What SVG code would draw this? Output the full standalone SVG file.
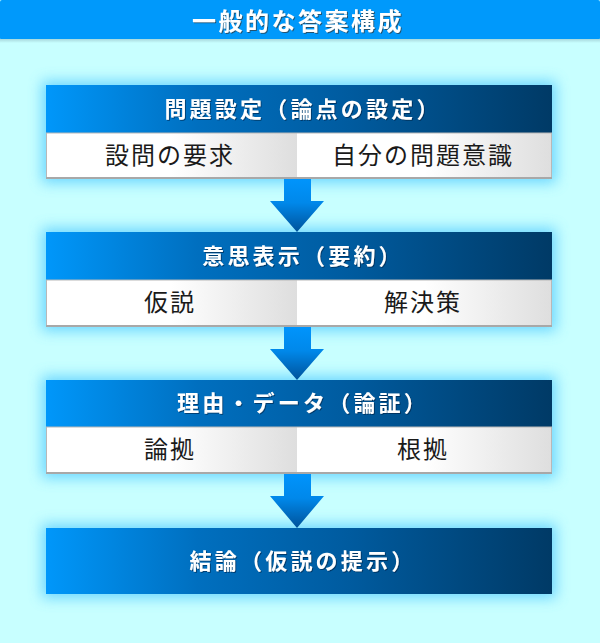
<svg xmlns="http://www.w3.org/2000/svg" width="600" height="643" viewBox="0 0 600 643">
<defs>
<linearGradient id="hdr" x1="0" y1="0" x2="1" y2="0">
<stop offset="0" stop-color="#0097fa"/>
<stop offset="0.3" stop-color="#006fbf"/>
<stop offset="0.6" stop-color="#005b9f"/>
<stop offset="1" stop-color="#003a66"/>
</linearGradient>
<linearGradient id="sub" x1="0" y1="0" x2="1" y2="0">
<stop offset="0" stop-color="#ffffff"/>
<stop offset="0.5" stop-color="#ffffff"/>
<stop offset="1" stop-color="#dedede"/>
</linearGradient>
<linearGradient id="arr" x1="0" y1="0" x2="0" y2="1">
<stop offset="0" stop-color="#0094fc"/>
<stop offset="0.45" stop-color="#0088ea"/>
<stop offset="1" stop-color="#00529a"/>
</linearGradient>
<linearGradient id="strip" x1="0" y1="0" x2="0" y2="1">
<stop offset="0" stop-color="#a8d8dc"/>
<stop offset="1" stop-color="#c8ffff"/>
</linearGradient>
<filter id="glow" x="-20%" y="-50%" width="140%" height="200%">
<feGaussianBlur stdDeviation="7"/>
</filter>
<filter id="tshadow" x="-10%" y="-30%" width="120%" height="160%">
<feDropShadow dx="1" dy="1" stdDeviation="0.6" flood-color="#303030" flood-opacity="0.7"/>
</filter>
<filter id="hshadow" x="-10%" y="-30%" width="120%" height="160%">
<feDropShadow dx="1" dy="1" stdDeviation="0.5" flood-color="#002040" flood-opacity="0.6"/>
</filter>
</defs>
<style>
.bg{fill:#c8ffff}
.glow{fill:#5ccfff;opacity:0.85;filter:url(#glow)}
.hdr{fill:url(#hdr)}
.sub{fill:url(#sub)}
.frame{fill:none;stroke:#b8b8b8;stroke-width:1}
.base{stroke:#a8a8a8;stroke-width:2}
.title{font-family:"Noto Sans CJK JP","Noto Sans CJK SC",sans-serif;font-weight:bold;font-size:24px;fill:#ffffff;letter-spacing:2.5px;text-anchor:middle;filter:url(#tshadow)}
.htext{font-family:"Noto Sans CJK JP","Noto Sans CJK SC",sans-serif;font-weight:bold;font-size:22px;fill:#ffffff;letter-spacing:3.2px;text-anchor:middle;filter:url(#hshadow)}
.stext{font-family:"Noto Sans CJK JP","Noto Sans CJK SC",sans-serif;font-weight:normal;font-size:24px;fill:#1a1a1a;letter-spacing:2px;text-anchor:middle}
.arrow{fill:url(#arr)}
</style>
<rect class="bg" x="0" y="0" width="600" height="643"/>
<g id="title-bar">
<rect x="0" y="0" width="600" height="40" rx="2" fill="#0099fb"/>
<rect x="0" y="39" width="600" height="4" fill="url(#strip)"/>
<text class="title" x="298" y="30">一般的な答案構成</text>
</g>
<g id="glows">
<rect class="glow" x="42" y="81" width="514" height="102"/>
<rect class="glow" x="42" y="228" width="514" height="103"/>
<rect class="glow" x="42" y="376" width="514" height="102"/>
<rect class="glow" x="42" y="524" width="514" height="74"/>
</g>
<g id="connectors">
<path class="arrow" d="M284 179 H311 V201 H324 L297 232 L270 201 H284 Z"/>
<path class="arrow" d="M284 327 H311 V349 H324 L297 380 L270 349 H284 Z"/>
<path class="arrow" d="M284 474 H311 V496 H324 L297 528 L270 496 H284 Z"/>
</g>
<g id="node-mondai">
<rect class="hdr" x="46" y="85" width="506" height="48"/>
<text class="htext" x="303" y="117">問題設定（論点の設定）</text>
<rect class="sub" x="46" y="133" width="251" height="46"/>
<rect class="sub" x="297" y="133" width="255" height="46"/>
<rect class="frame" x="46.5" y="133" width="505" height="45.5"/>
<line class="base" x1="46" y1="178" x2="552" y2="178"/>
<text class="stext" x="170" y="164">設問の要求</text>
<text class="stext" x="423" y="164">自分の問題意識</text>
</g>
<g id="node-ishi">
<rect class="hdr" x="46" y="232" width="506" height="48"/>
<text class="htext" x="303" y="264">意思表示（要約）</text>
<rect class="sub" x="46" y="280" width="251" height="47"/>
<rect class="sub" x="297" y="280" width="255" height="47"/>
<rect class="frame" x="46.5" y="280" width="505" height="46.5"/>
<line class="base" x1="46" y1="326" x2="552" y2="326"/>
<text class="stext" x="170" y="311">仮説</text>
<text class="stext" x="423" y="311">解決策</text>
</g>
<g id="node-riyu">
<rect class="hdr" x="46" y="380" width="506" height="47"/>
<text class="htext" x="303" y="411">理由・データ（論証）</text>
<rect class="sub" x="46" y="427" width="251" height="47"/>
<rect class="sub" x="297" y="427" width="255" height="47"/>
<rect class="frame" x="46.5" y="427" width="505" height="46.5"/>
<line class="base" x1="46" y1="473" x2="552" y2="473"/>
<text class="stext" x="170" y="458">論拠</text>
<text class="stext" x="423" y="458">根拠</text>
</g>
<g id="node-ketsuron">
<rect class="hdr" x="46" y="528" width="506" height="66"/>
<text class="htext" x="303" y="569">結論（仮説の提示）</text>
</g>
</svg>
